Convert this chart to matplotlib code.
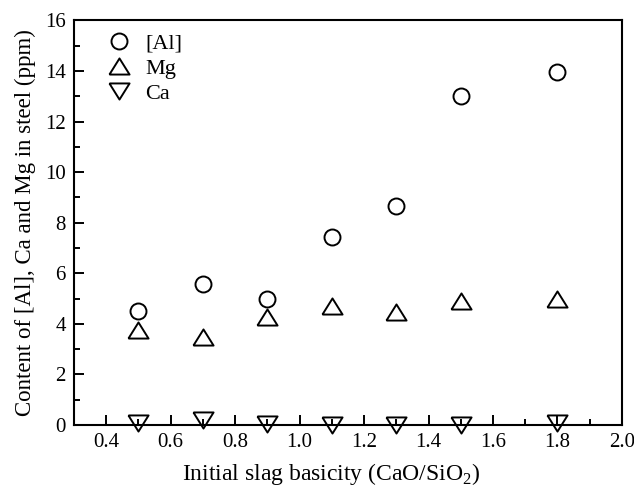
import numpy as np
import matplotlib
matplotlib.use("Agg")
import matplotlib.pyplot as plt
from matplotlib.ticker import MultipleLocator

# basicity (CaO/SiO2) and element contents in steel (ppm)
basicity = [0.5, 0.7, 0.9, 1.1, 1.3, 1.5, 1.8]
al_ppm = [4.53, 5.57, 4.99, 7.42, 8.65, 13.03, 13.95]
mg_ppm = [3.77, 3.48, 4.27, 4.70, 4.49, 4.90, 5.00]
ca_ppm = [0.10, 0.20, 0.04, 0.0, 0.0, 0.0, 0.10]

plt.rcParams["font.family"] = ["Liberation Serif", "DejaVu Serif"]
plt.rcParams["mathtext.fontset"] = "custom"
plt.rcParams["mathtext.rm"] = "Liberation Serif"

# wider-than-tall triangles like the original
tri_up = [(-1, -0.8), (1, -0.8), (0, 0.8), (-1, -0.8)]
tri_down = [(-1, 0.8), (1, 0.8), (0, -0.8), (-1, 0.8)]

fig = plt.figure(figsize=(6.34, 4.88), dpi=100)
ax = fig.add_axes([0.1167, 0.129, 0.8643, 0.829])

mkw = dict(linestyle="none", markerfacecolor="none", markeredgecolor="black",
           markeredgewidth=1.4, clip_on=False)
ax.plot(basicity, al_ppm, marker="o", markersize=11.5, label="[Al]", **mkw)
ax.plot(basicity, mg_ppm, marker=tri_up, markersize=14.5, label="Mg", **mkw)
ax.plot(basicity, ca_ppm, marker=tri_down, markersize=14.5, label="Ca", **mkw)

ax.set_xlim(0.3, 2.0)
ax.set_ylim(0, 16)
ax.xaxis.set_minor_locator(MultipleLocator(0.1))
ax.yaxis.set_major_locator(MultipleLocator(2))
ax.yaxis.set_minor_locator(MultipleLocator(1))
xt = np.arange(0.4, 2.01, 0.2)
ax.set_xticks(xt)
ax.set_xticklabels([f"{v:.1f}" for v in xt])
ax.tick_params(which="both", direction="in", width=1.4, labelsize=15,
               top=False, right=False)
ax.tick_params(which="major", length=7, pad=6)
ax.tick_params(which="minor", length=4)
for s in ax.spines.values():
    s.set_linewidth(1.5)

ax.set_xlabel("Initial slag basicity (CaO/SiO$_2$)", fontsize=17)
ax.xaxis.set_label_coords(0.47, -0.09)
ax.set_ylabel("Content of [Al], Ca and Mg in steel (ppm)", fontsize=16.5, labelpad=6)

ax.legend(loc="upper left", frameon=False, fontsize=16, handletextpad=0.45,
          labelspacing=0.2, borderaxespad=0.0, handlelength=1.5,
          bbox_to_anchor=(0.035, 0.99))

fig.savefig("out.png", dpi=100)
